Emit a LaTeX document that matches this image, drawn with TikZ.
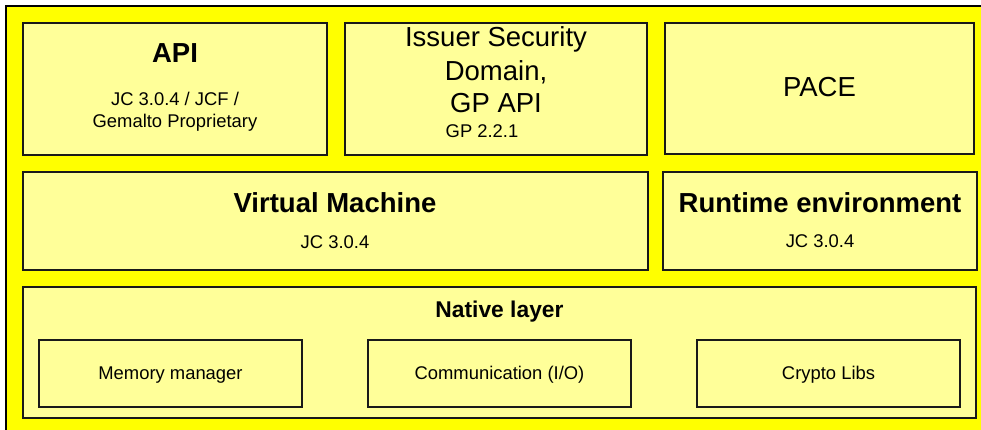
\documentclass[tikz,border=0pt]{standalone}
\usepackage{fontspec}
\setmainfont{Liberation Sans}
\definecolor{outeryellow}{RGB}{255,255,0}
\definecolor{inneryellow}{RGB}{255,255,153}
\definecolor{edgegray}{RGB}{25,25,25}
\tikzset{
  box/.style={draw=edgegray, line width=1.2pt, fill=inneryellow, anchor=north west,
    inner sep=0pt, outer sep=0pt},
  subbox/.style={draw=edgegray, line width=1.2pt, anchor=north west,
    inner sep=0pt, outer sep=0pt},
  big/.style={anchor=base, inner sep=0pt, font=\fontsize{27.5}{33}\selectfont},
  bigbold/.style={anchor=base, inner sep=0pt, font=\fontsize{27.5}{33}\selectfont\bfseries},
  midbold/.style={anchor=base, inner sep=0pt, font=\fontsize{22.8}{27}\selectfont\bfseries},
  small/.style={anchor=base, inner sep=0pt, font=\fontsize{18.4}{22}\selectfont},
}
\begin{document}
\begin{tikzpicture}[x=1pt,y=-1pt]
\useasboundingbox (0,0) rectangle (981,430);
\fill[white] (0,0) rectangle (981,430);
\fill[outeryellow] (6,6) rectangle (981,430);
\draw[line width=2pt, black] (6,430) -- (6,6) -- (981,6);

% top row
\node[box, minimum width=304pt, minimum height=132pt] (api) at (23,23) {};
\node[box, minimum width=302pt, minimum height=132pt] (isd) at (345,23) {};
\node[box, minimum width=309pt, minimum height=131pt] (pace) at (665,23) {};
% middle row
\node[box, minimum width=625pt, minimum height=98pt] (vm) at (23,172) {};
\node[box, minimum width=314pt, minimum height=98pt] (rt) at (663,172) {};
% native layer
\node[box, minimum width=953pt, minimum height=131pt] (nat) at (23,287) {};
\node[subbox, minimum width=263pt, minimum height=67pt] (mem) at (39,340) {};
\node[subbox, minimum width=263pt, minimum height=67pt] (com) at (368,340) {};
\node[subbox, minimum width=263pt, minimum height=67pt] (cry) at (697,340) {};

% texts
\node[bigbold] (apit) at (175,63) {API};
\node[small] (apis1) at (175,106) {JC 3.0.4 / JCF /};
\node[small] (apis2) at (175,128) {Gemalto Proprietary};

\node[big] (isd1) at (496,47) {Issuer Security};
\node[big] (isd2) at (496,81) {Domain,};
\node[big] (isd3) at (496,113) {GP API};
\node[small] (isds) at (482,138) {GP 2.2.1};

\node[big] (pacet) at (819.5,97) {PACE};

\node[bigbold] (vmt) at (335,213) {Virtual Machine};
\node[small] (vms) at (335,248) {JC 3.0.4};

\node[bigbold] (rtt) at (820,213) {Runtime environment};
\node[small] (rts) at (820,247) {JC 3.0.4};

\node[midbold] (natt) at (499.5,317) {Native layer};
\node[small] (memt) at (170.5,379) {Memory manager};
\node[small] (comt) at (499.5,379) {Communication (I/O)};
\node[small] (cryt) at (828.5,379) {Crypto Libs};
\end{tikzpicture}
\end{document}
